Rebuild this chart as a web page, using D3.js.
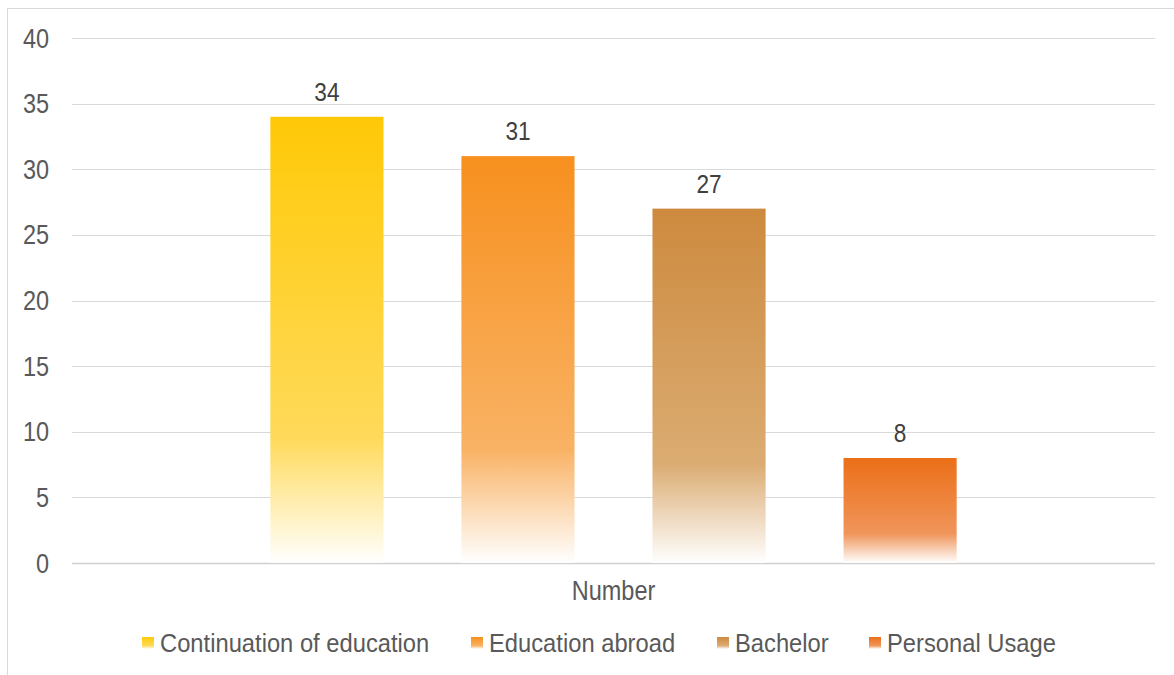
<!DOCTYPE html>
<html>
<head>
<meta charset="utf-8">
<script src="https://cdn.jsdelivr.net/npm/d3@7"></script>
<style>
  body { margin: 0; background: #fff; }
  text { font-family: "Liberation Sans", Arial, sans-serif; }
</style>
</head>
<body>
<div id="chart"></div>
<script>
// Data
const categories = ['Number'];
const seriesNames = ['Continuation of education', 'Education abroad', 'Bachelor', 'Personal Usage'];
const seriesValues = [34, 31, 27, 8];
const yTicks = [0, 5, 10, 15, 20, 25, 30, 35, 40];

// Top colour and lighter middle colour for each bar gradient
const topColors = ['#FFC907', '#F7901E', '#CD8A3E', '#EB6F18'];
const midColors = ['#FFDA5A', '#F9B264', '#DBAC72', '#F0955A'];

const WIDTH = 1174;
const HEIGHT = 675;
const margin = { top: 38, right: 19, bottom: 112, left: 72 };

// text in the source is a bit narrow for its height
const SQUEEZE = 0.87;

const svg = d3.select('#chart')
  .append('svg')
  .attr('width', WIDTH)
  .attr('height', HEIGHT);

// gradients
const defs = svg.append('defs');
seriesNames.forEach((name, i) => {
  const g = defs.append('linearGradient')
    .attr('id', 'grad' + i)
    .attr('x1', 0).attr('y1', 0).attr('x2', 0).attr('y2', 1);
  g.append('stop').attr('offset', '0%').attr('stop-color', topColors[i]);
  g.append('stop').attr('offset', '72%').attr('stop-color', midColors[i]);
  g.append('stop').attr('offset', '100%').attr('stop-color', '#ffffff');
});

// outer chart border
svg.append('rect')
  .attr('x', 7.5).attr('y', 8.5)
  .attr('width', WIDTH + 20).attr('height', HEIGHT + 20)
  .attr('fill', 'none')
  .attr('stroke', '#d9d9d9')
  .attr('stroke-width', 1);

const x0 = d3.scaleBand()
  .domain(categories)
  .range([margin.left, WIDTH - margin.right])
  .paddingInner(0)
  .paddingOuter(0.289);

const x1 = d3.scaleBand()
  .domain(seriesNames)
  .range([0, x0.bandwidth()])
  .paddingInner(0.408);

const y = d3.scaleLinear()
  .domain([0, 40])
  .range([HEIGHT - margin.bottom, margin.top]);

// gridlines
svg.append('g')
  .selectAll('line')
  .data(yTicks)
  .enter()
  .append('line')
  .attr('x1', margin.left)
  .attr('x2', WIDTH - margin.right)
  .attr('y1', (d) => Math.round(y(d)) + 0.5)
  .attr('y2', (d) => Math.round(y(d)) + 0.5)
  .attr('stroke', (d) => d === 0 ? '#d0d0d0' : '#d9d9d9')
  .attr('stroke-width', (d) => d === 0 ? 1.5 : 1);

// y tick labels
svg.append('g')
  .selectAll('text')
  .data(yTicks)
  .enter()
  .append('text')
  .attr('transform', (d) => `translate(49,${y(d) + 9.5}) scale(${SQUEEZE},1)`)
  .attr('text-anchor', 'end')
  .attr('fill', '#595959')
  .style('font-size', '27px')
  .text((d) => d);

// bars
const group = svg.append('g')
  .attr('transform', `translate(${x0(categories[0])},0)`);

group.selectAll('rect')
  .data(seriesValues)
  .enter()
  .append('rect')
  .attr('x', (d, i) => x1(seriesNames[i]))
  .attr('y', (d) => y(d))
  .attr('width', x1.bandwidth())
  .attr('height', (d) => y(0) - y(d))
  .attr('fill', (d, i) => `url(#grad${i})`);

// value labels
group.selectAll('text')
  .data(seriesValues)
  .enter()
  .append('text')
  .attr('transform', (d, i) =>
    `translate(${x1(seriesNames[i]) + x1.bandwidth() / 2},${y(d) - 16}) scale(${SQUEEZE},1)`)
  .attr('text-anchor', 'middle')
  .attr('fill', '#404040')
  .style('font-size', '26px')
  .text((d) => d);

// category label
svg.append('text')
  .attr('transform', `translate(${x0(categories[0]) + x0.bandwidth() / 2},600) scale(${SQUEEZE},1)`)
  .attr('text-anchor', 'middle')
  .attr('fill', '#595959')
  .style('font-size', '27px')
  .text(categories[0]);

// legend
const legendX = [142, 471, 717, 869];
const legend = svg.append('g');
seriesNames.forEach((name, i) => {
  legend.append('rect')
    .attr('x', legendX[i])
    .attr('y', 637)
    .attr('width', 12)
    .attr('height', 12)
    .attr('fill', `url(#grad${i})`);
  legend.append('text')
    .attr('transform', `translate(${legendX[i] + 18},652) scale(0.95,1)`)
    .attr('fill', '#595959')
    .style('font-size', '25px')
    .text(name);
});
</script>
</body>
</html>
